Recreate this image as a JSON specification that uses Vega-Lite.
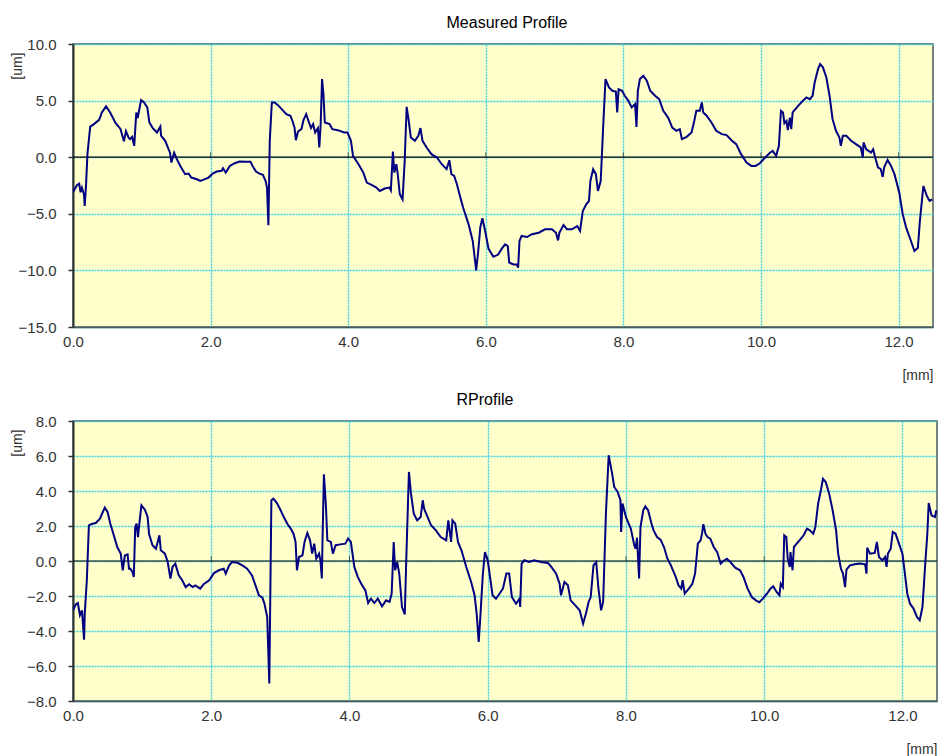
{
"$schema": "https://vega.github.io/schema/vega-lite/v6.json",
"background": "white",
"padding": {"left": 9, "top": 14, "right": 5, "bottom": 5},
"spacing": 8,
"config": {
 "font": "Liberation Sans",
 "view": {"fill": "#ffffcc", "stroke": "#4a5a5a", "strokeWidth": 1.5},
 "title": {"fontSize": 16, "fontWeight": "normal", "color": "#000000", "font": "Liberation Sans", "offset": 6, "frame": "group"},
 "axis": {"labelFont": "Liberation Sans", "labelFontSize": 15, "labelColor": "#333333", "labelOverlap": false, "titleFont": "Liberation Sans", "titleFontSize": 14, "titleFontWeight": "normal", "titleColor": "#333333", "gridColor": "#40d0e6", "gridDash": [2, 1], "gridWidth": 1.4, "domainColor": "#333333"}
},
"datasets": {
 "zeroline": [{"x": 0, "x2": 12.5, "y": 0}],
 "ticks": [{"x": 2, "y": 0}, {"x": 4, "y": 0}, {"x": 6, "y": 0}, {"x": 8, "y": 0}, {"x": 10, "y": 0}, {"x": 12, "y": 0}],
 "measured": [
{"x":0.0,"y":-2.9},{"x":0.01,"y":-2.98},{"x":0.06,"y":-2.45},{"x":0.09,"y":-2.33},{"x":0.11,"y":-3.1},{"x":0.13,"y":-2.7},{"x":0.16,"y":-3.3},{"x":0.17,"y":-4.3},{"x":0.19,"y":-2.4},{"x":0.21,"y":0.27},{"x":0.25,"y":2.7},{"x":0.30,"y":2.9},{"x":0.38,"y":3.3},{"x":0.42,"y":3.95},{"x":0.48,"y":4.5},{"x":0.54,"y":3.95},{"x":0.62,"y":3.0},{"x":0.69,"y":2.5},{"x":0.74,"y":1.4},{"x":0.77,"y":2.3},{"x":0.81,"y":1.7},{"x":0.83,"y":1.6},{"x":0.86,"y":1.8},{"x":0.89,"y":1.0},{"x":0.92,"y":3.95},{"x":0.94,"y":3.45},{"x":0.96,"y":4.1},{"x":0.99,"y":5.05},{"x":1.03,"y":4.85},{"x":1.08,"y":4.4},{"x":1.11,"y":3.07},{"x":1.16,"y":2.57},{"x":1.22,"y":2.18},{"x":1.27,"y":2.7},{"x":1.28,"y":1.9},{"x":1.34,"y":1.45},{"x":1.41,"y":0.4},{"x":1.43,"y":-0.47},{"x":1.47,"y":0.4},{"x":1.51,"y":-0.18},{"x":1.57,"y":-0.9},{"x":1.63,"y":-1.5},{"x":1.68,"y":-1.45},{"x":1.72,"y":-1.8},{"x":1.80,"y":-1.95},{"x":1.85,"y":-2.1},{"x":1.90,"y":-1.98},{"x":1.97,"y":-1.8},{"x":2.03,"y":-1.45},{"x":2.09,"y":-1.27},{"x":2.16,"y":-1.2},{"x":2.18,"y":-0.97},{"x":2.22,"y":-1.36},{"x":2.28,"y":-0.77},{"x":2.35,"y":-0.53},{"x":2.42,"y":-0.38},{"x":2.52,"y":-0.41},{"x":2.58,"y":-0.41},{"x":2.61,"y":-0.77},{"x":2.66,"y":-1.27},{"x":2.71,"y":-1.45},{"x":2.76,"y":-1.56},{"x":2.80,"y":-2.1},{"x":2.82,"y":-2.7},{"x":2.84,"y":-6.0},{"x":2.86,"y":1.45},{"x":2.89,"y":4.84},{"x":2.93,"y":4.84},{"x":2.98,"y":4.6},{"x":3.04,"y":4.2},{"x":3.10,"y":3.8},{"x":3.16,"y":3.66},{"x":3.19,"y":3.2},{"x":3.22,"y":2.6},{"x":3.24,"y":1.5},{"x":3.27,"y":2.27},{"x":3.32,"y":2.48},{"x":3.35,"y":3.27},{"x":3.39,"y":3.8},{"x":3.43,"y":3.07},{"x":3.46,"y":2.57},{"x":3.49,"y":2.92},{"x":3.52,"y":2.18},{"x":3.56,"y":2.57},{"x":3.58,"y":0.86},{"x":3.60,"y":2.92},{"x":3.62,"y":6.9},{"x":3.64,"y":5.58},{"x":3.66,"y":3.07},{"x":3.73,"y":2.92},{"x":3.77,"y":2.48},{"x":3.85,"y":2.39},{"x":3.94,"y":2.18},{"x":3.99,"y":2.18},{"x":4.04,"y":1.45},{"x":4.07,"y":0.12},{"x":4.15,"y":-0.62},{"x":4.22,"y":-1.36},{"x":4.27,"y":-2.24},{"x":4.34,"y":-2.45},{"x":4.41,"y":-2.68},{"x":4.46,"y":-2.98},{"x":4.53,"y":-2.77},{"x":4.60,"y":-2.68},{"x":4.62,"y":-2.92},{"x":4.65,"y":0.5},{"x":4.67,"y":-1.36},{"x":4.70,"y":-0.62},{"x":4.72,"y":-1.5},{"x":4.75,"y":-3.27},{"x":4.79,"y":-3.72},{"x":4.82,"y":-0.47},{"x":4.85,"y":4.45},{"x":4.88,"y":3.2},{"x":4.91,"y":1.74},{"x":4.97,"y":1.45},{"x":5.02,"y":1.9},{"x":5.05,"y":2.57},{"x":5.08,"y":1.45},{"x":5.14,"y":0.86},{"x":5.21,"y":0.27},{"x":5.29,"y":-0.03},{"x":5.36,"y":-0.62},{"x":5.43,"y":-1.06},{"x":5.47,"y":-0.27},{"x":5.50,"y":-1.5},{"x":5.54,"y":-1.65},{"x":5.58,"y":-2.39},{"x":5.63,"y":-3.57},{"x":5.67,"y":-4.45},{"x":5.75,"y":-5.93},{"x":5.81,"y":-7.4},{"x":5.86,"y":-10.0},{"x":5.89,"y":-8.3},{"x":5.92,"y":-6.2},{"x":5.95,"y":-5.4},{"x":5.99,"y":-6.5},{"x":6.04,"y":-8.1},{"x":6.11,"y":-8.8},{"x":6.18,"y":-8.6},{"x":6.23,"y":-8.1},{"x":6.28,"y":-7.7},{"x":6.32,"y":-7.85},{"x":6.34,"y":-9.3},{"x":6.40,"y":-9.47},{"x":6.45,"y":-9.47},{"x":6.47,"y":-9.76},{"x":6.49,"y":-7.4},{"x":6.52,"y":-6.96},{"x":6.60,"y":-7.05},{"x":6.67,"y":-6.8},{"x":6.77,"y":-6.67},{"x":6.86,"y":-6.37},{"x":6.96,"y":-6.37},{"x":7.02,"y":-6.67},{"x":7.05,"y":-7.35},{"x":7.07,"y":-6.67},{"x":7.13,"y":-6.0},{"x":7.18,"y":-6.37},{"x":7.25,"y":-6.37},{"x":7.33,"y":-6.08},{"x":7.37,"y":-6.52},{"x":7.41,"y":-4.75},{"x":7.46,"y":-4.16},{"x":7.50,"y":-3.86},{"x":7.52,"y":-2.1},{"x":7.56,"y":-1.06},{"x":7.60,"y":-1.5},{"x":7.63,"y":-2.98},{"x":7.67,"y":-2.1},{"x":7.71,"y":3.2},{"x":7.74,"y":6.9},{"x":7.79,"y":6.17},{"x":7.84,"y":5.87},{"x":7.89,"y":5.8},{"x":7.91,"y":3.95},{"x":7.93,"y":6.0},{"x":7.98,"y":5.87},{"x":8.02,"y":5.43},{"x":8.07,"y":5.0},{"x":8.12,"y":4.4},{"x":8.17,"y":4.7},{"x":8.19,"y":2.68},{"x":8.21,"y":5.87},{"x":8.24,"y":6.9},{"x":8.29,"y":7.2},{"x":8.34,"y":6.75},{"x":8.39,"y":5.87},{"x":8.46,"y":5.43},{"x":8.52,"y":5.13},{"x":8.58,"y":4.1},{"x":8.65,"y":3.5},{"x":8.71,"y":2.62},{"x":8.77,"y":2.33},{"x":8.82,"y":2.48},{"x":8.85,"y":1.6},{"x":8.92,"y":1.8},{"x":8.99,"y":2.18},{"x":9.03,"y":3.2},{"x":9.06,"y":4.1},{"x":9.11,"y":4.1},{"x":9.14,"y":4.84},{"x":9.16,"y":3.95},{"x":9.21,"y":3.66},{"x":9.28,"y":3.07},{"x":9.35,"y":2.33},{"x":9.43,"y":2.04},{"x":9.50,"y":1.95},{"x":9.57,"y":1.5},{"x":9.64,"y":1.15},{"x":9.71,"y":0.27},{"x":9.79,"y":-0.47},{"x":9.86,"y":-0.77},{"x":9.92,"y":-0.77},{"x":9.98,"y":-0.56},{"x":10.05,"y":-0.09},{"x":10.13,"y":0.4},{"x":10.17,"y":0.56},{"x":10.22,"y":0.12},{"x":10.26,"y":1.0},{"x":10.29,"y":4.1},{"x":10.32,"y":3.95},{"x":10.34,"y":3.0},{"x":10.37,"y":3.2},{"x":10.39,"y":2.39},{"x":10.42,"y":3.5},{"x":10.44,"y":2.48},{"x":10.46,"y":3.95},{"x":10.54,"y":4.54},{"x":10.61,"y":5.0},{"x":10.66,"y":5.28},{"x":10.71,"y":5.13},{"x":10.75,"y":5.43},{"x":10.78,"y":6.6},{"x":10.83,"y":7.8},{"x":10.86,"y":8.23},{"x":10.90,"y":7.94},{"x":10.95,"y":7.05},{"x":11.00,"y":5.28},{"x":11.04,"y":3.36},{"x":11.09,"y":2.33},{"x":11.14,"y":1.74},{"x":11.16,"y":1.0},{"x":11.19,"y":1.9},{"x":11.24,"y":1.9},{"x":11.31,"y":1.45},{"x":11.38,"y":1.15},{"x":11.45,"y":0.86},{"x":11.48,"y":-0.03},{"x":11.49,"y":1.3},{"x":11.53,"y":0.7},{"x":11.60,"y":0.4},{"x":11.63,"y":0.7},{"x":11.66,"y":-0.03},{"x":11.70,"y":-0.9},{"x":11.74,"y":-1.06},{"x":11.77,"y":-1.74},{"x":11.79,"y":-0.9},{"x":11.84,"y":-0.24},{"x":11.89,"y":-0.77},{"x":11.94,"y":-1.5},{"x":12.01,"y":-3.13},{"x":12.06,"y":-5.04},{"x":12.11,"y":-6.22},{"x":12.18,"y":-7.4},{"x":12.23,"y":-8.29},{"x":12.28,"y":-8.0},{"x":12.31,"y":-5.6},{"x":12.36,"y":-2.54},{"x":12.41,"y":-3.42},{"x":12.45,"y":-3.86},{"x":12.49,"y":-3.72}
 ],
 "rprofile": [
{"x":0.0,"y":-2.82},{"x":0.04,"y":-2.48},{"x":0.07,"y":-2.4},{"x":0.10,"y":-3.1},{"x":0.13,"y":-2.82},{"x":0.16,"y":-4.5},{"x":0.17,"y":-3.0},{"x":0.20,"y":-1.1},{"x":0.23,"y":2.04},{"x":0.28,"y":2.13},{"x":0.33,"y":2.17},{"x":0.39,"y":2.42},{"x":0.42,"y":2.7},{"x":0.46,"y":3.05},{"x":0.50,"y":2.8},{"x":0.54,"y":2.13},{"x":0.59,"y":1.47},{"x":0.64,"y":0.8},{"x":0.69,"y":0.42},{"x":0.72,"y":-0.53},{"x":0.75,"y":0.32},{"x":0.79,"y":0.38},{"x":0.81,"y":-0.44},{"x":0.83,"y":-0.44},{"x":0.86,"y":-0.63},{"x":0.88,"y":-0.91},{"x":0.90,"y":1.94},{"x":0.92,"y":2.13},{"x":0.94,"y":1.37},{"x":0.96,"y":2.13},{"x":0.99,"y":3.18},{"x":1.04,"y":2.93},{"x":1.08,"y":2.51},{"x":1.10,"y":1.56},{"x":1.15,"y":0.9},{"x":1.20,"y":0.7},{"x":1.25,"y":1.47},{"x":1.27,"y":0.61},{"x":1.33,"y":0.42},{"x":1.37,"y":-0.06},{"x":1.41,"y":-1.01},{"x":1.44,"y":-0.34},{"x":1.48,"y":-0.15},{"x":1.53,"y":-0.82},{"x":1.58,"y":-1.1},{"x":1.63,"y":-1.49},{"x":1.68,"y":-1.33},{"x":1.73,"y":-1.49},{"x":1.77,"y":-1.39},{"x":1.84,"y":-1.58},{"x":1.89,"y":-1.33},{"x":1.97,"y":-1.1},{"x":2.04,"y":-0.69},{"x":2.11,"y":-0.53},{"x":2.18,"y":-0.44},{"x":2.21,"y":-0.72},{"x":2.26,"y":-0.25},{"x":2.30,"y":-0.06},{"x":2.38,"y":-0.1},{"x":2.45,"y":-0.25},{"x":2.52,"y":-0.44},{"x":2.59,"y":-0.82},{"x":2.64,"y":-1.39},{"x":2.69,"y":-1.96},{"x":2.74,"y":-2.1},{"x":2.77,"y":-2.44},{"x":2.81,"y":-3.2},{"x":2.84,"y":-7.0},{"x":2.87,"y":3.47},{"x":2.90,"y":3.56},{"x":2.95,"y":3.31},{"x":3.00,"y":2.93},{"x":3.05,"y":2.51},{"x":3.10,"y":2.13},{"x":3.15,"y":1.85},{"x":3.19,"y":1.56},{"x":3.22,"y":1.09},{"x":3.24,"y":-0.53},{"x":3.27,"y":0.23},{"x":3.32,"y":0.32},{"x":3.35,"y":1.09},{"x":3.39,"y":1.6},{"x":3.43,"y":1.18},{"x":3.46,"y":0.42},{"x":3.49,"y":0.99},{"x":3.52,"y":0.13},{"x":3.56,"y":0.42},{"x":3.58,"y":0.04},{"x":3.60,"y":-1.0},{"x":3.61,"y":1.18},{"x":3.63,"y":4.95},{"x":3.66,"y":3.09},{"x":3.68,"y":1.18},{"x":3.73,"y":1.09},{"x":3.76,"y":0.42},{"x":3.80,"y":0.9},{"x":3.87,"y":0.95},{"x":3.94,"y":0.99},{"x":3.98,"y":1.28},{"x":4.02,"y":1.09},{"x":4.07,"y":-0.34},{"x":4.12,"y":-0.91},{"x":4.17,"y":-1.3},{"x":4.23,"y":-1.68},{"x":4.27,"y":-2.4},{"x":4.31,"y":-2.15},{"x":4.36,"y":-2.4},{"x":4.41,"y":-2.15},{"x":4.47,"y":-2.59},{"x":4.53,"y":-2.25},{"x":4.58,"y":-2.34},{"x":4.61,"y":-1.87},{"x":4.64,"y":1.09},{"x":4.66,"y":-0.53},{"x":4.69,"y":-0.06},{"x":4.72,"y":-0.72},{"x":4.76,"y":-2.63},{"x":4.80,"y":-3.05},{"x":4.82,"y":-0.15},{"x":4.86,"y":5.09},{"x":4.89,"y":3.85},{"x":4.93,"y":2.7},{"x":4.98,"y":2.32},{"x":5.03,"y":2.51},{"x":5.06,"y":3.47},{"x":5.08,"y":2.99},{"x":5.12,"y":2.61},{"x":5.18,"y":2.04},{"x":5.25,"y":1.75},{"x":5.32,"y":1.37},{"x":5.40,"y":1.18},{"x":5.43,"y":2.32},{"x":5.47,"y":1.09},{"x":5.49,"y":2.32},{"x":5.53,"y":2.13},{"x":5.57,"y":1.09},{"x":5.62,"y":0.61},{"x":5.69,"y":-0.34},{"x":5.76,"y":-1.2},{"x":5.81,"y":-1.96},{"x":5.84,"y":-3.01},{"x":5.87,"y":-4.63},{"x":5.89,"y":-3.39},{"x":5.93,"y":-0.72},{"x":5.96,"y":0.51},{"x":6.00,"y":0.04},{"x":6.04,"y":-1.1},{"x":6.07,"y":-1.96},{"x":6.12,"y":-2.15},{"x":6.17,"y":-1.87},{"x":6.22,"y":-1.58},{"x":6.27,"y":-0.72},{"x":6.31,"y":-0.72},{"x":6.35,"y":-2.06},{"x":6.41,"y":-2.44},{"x":6.46,"y":-2.15},{"x":6.47,"y":-2.63},{"x":6.49,"y":-0.15},{"x":6.53,"y":0.04},{"x":6.60,"y":-0.06},{"x":6.67,"y":0.04},{"x":6.77,"y":-0.06},{"x":6.87,"y":-0.11},{"x":6.92,"y":-0.34},{"x":6.99,"y":-0.72},{"x":7.04,"y":-1.3},{"x":7.06,"y":-1.96},{"x":7.11,"y":-1.2},{"x":7.16,"y":-1.39},{"x":7.20,"y":-2.25},{"x":7.28,"y":-2.59},{"x":7.33,"y":-2.82},{"x":7.38,"y":-3.58},{"x":7.42,"y":-3.01},{"x":7.46,"y":-2.34},{"x":7.49,"y":-2.06},{"x":7.53,"y":-0.25},{"x":7.57,"y":-0.06},{"x":7.60,"y":-1.49},{"x":7.64,"y":-2.82},{"x":7.67,"y":-2.34},{"x":7.71,"y":2.7},{"x":7.75,"y":6.04},{"x":7.80,"y":4.99},{"x":7.83,"y":4.23},{"x":7.88,"y":3.94},{"x":7.92,"y":3.47},{"x":7.93,"y":1.66},{"x":7.95,"y":3.28},{"x":8.0,"y":2.5},{"x":8.07,"y":1.85},{"x":8.12,"y":0.9},{"x":8.14,"y":0.7},{"x":8.16,"y":1.33},{"x":8.19,"y":-1.0},{"x":8.21,"y":1.94},{"x":8.25,"y":2.9},{"x":8.28,"y":3.12},{"x":8.32,"y":2.9},{"x":8.37,"y":2.13},{"x":8.40,"y":1.75},{"x":8.45,"y":1.37},{"x":8.50,"y":1.22},{"x":8.55,"y":0.8},{"x":8.60,"y":0.13},{"x":8.65,"y":-0.25},{"x":8.72,"y":-0.91},{"x":8.76,"y":-1.39},{"x":8.80,"y":-1.58},{"x":8.82,"y":-1.1},{"x":8.85,"y":-1.87},{"x":8.91,"y":-1.58},{"x":8.96,"y":-1.3},{"x":9.00,"y":-0.72},{"x":9.04,"y":0.99},{"x":9.08,"y":1.18},{"x":9.10,"y":1.56},{"x":9.12,"y":2.1},{"x":9.15,"y":1.56},{"x":9.18,"y":1.37},{"x":9.22,"y":1.28},{"x":9.27,"y":0.8},{"x":9.32,"y":0.51},{"x":9.37,"y":-0.15},{"x":9.41,"y":0.0},{"x":9.46,"y":0.13},{"x":9.51,"y":-0.06},{"x":9.58,"y":-0.38},{"x":9.65,"y":-0.53},{"x":9.70,"y":-0.91},{"x":9.76,"y":-1.58},{"x":9.82,"y":-2.06},{"x":9.88,"y":-2.25},{"x":9.93,"y":-2.36},{"x":9.98,"y":-2.15},{"x":10.04,"y":-1.87},{"x":10.09,"y":-1.58},{"x":10.13,"y":-1.45},{"x":10.18,"y":-1.77},{"x":10.22,"y":-1.96},{"x":10.24,"y":-1.3},{"x":10.27,"y":-1.49},{"x":10.29,"y":1.47},{"x":10.32,"y":1.37},{"x":10.34,"y":0.13},{"x":10.37,"y":-0.34},{"x":10.38,"y":0.51},{"x":10.41,"y":-0.53},{"x":10.43,"y":0.8},{"x":10.47,"y":0.99},{"x":10.52,"y":1.22},{"x":10.57,"y":1.47},{"x":10.62,"y":1.85},{"x":10.66,"y":1.75},{"x":10.71,"y":1.56},{"x":10.74,"y":1.94},{"x":10.78,"y":3.28},{"x":10.82,"y":4.04},{"x":10.85,"y":4.7},{"x":10.89,"y":4.51},{"x":10.94,"y":3.85},{"x":10.99,"y":2.9},{"x":11.04,"y":1.75},{"x":11.07,"y":0.42},{"x":11.11,"y":-0.44},{"x":11.14,"y":-0.72},{"x":11.17,"y":-1.49},{"x":11.19,"y":-0.5},{"x":11.24,"y":-0.25},{"x":11.31,"y":-0.19},{"x":11.38,"y":-0.15},{"x":11.46,"y":-0.19},{"x":11.48,"y":-0.72},{"x":11.49,"y":0.76},{"x":11.53,"y":0.42},{"x":11.60,"y":0.46},{"x":11.63,"y":1.09},{"x":11.66,"y":0.23},{"x":11.71,"y":0.04},{"x":11.75,"y":0.23},{"x":11.77,"y":-0.34},{"x":11.79,"y":0.42},{"x":11.83,"y":0.7},{"x":11.86,"y":1.66},{"x":11.90,"y":1.56},{"x":11.95,"y":0.99},{"x":12.00,"y":0.42},{"x":12.03,"y":-0.53},{"x":12.07,"y":-1.87},{"x":12.11,"y":-2.44},{"x":12.16,"y":-2.72},{"x":12.21,"y":-3.2},{"x":12.25,"y":-3.39},{"x":12.29,"y":-2.63},{"x":12.33,"y":-0.15},{"x":12.36,"y":1.56},{"x":12.38,"y":3.31},{"x":12.42,"y":2.61},{"x":12.47,"y":2.51},{"x":12.49,"y":2.9}
 ]
},
"vconcat": [
 {
  "title": {"text": "Measured Profile", "dx": 4},
  "width": 860,
  "height": 283,
  "encoding": {
   "x": {"field": "x", "type": "quantitative", "scale": {"domain": [0, 12.5], "nice": false, "zero": false},
     "axis": {"values": [0, 2, 4, 6, 8, 10, 12], "format": ".1f", "title": "[mm]", "titleAnchor": "end", "titlePadding": 19, "ticks": false, "labelPadding": 7, "labelFlush": false, "labelOverlap": false, "domainColor": "#4a5a5a", "domainWidth": 1.5, "grid": true}},
   "y": {"field": "y", "type": "quantitative", "scale": {"domain": [-15, 10], "nice": false},
     "axis": {"values": [-15, -10, -5, 0, 5, 10], "format": ".1f", "title": "[um]", "titleAngle": -90, "titleAlign": "right", "titleBaseline": "middle", "titleX": -56, "titleY": 8, "tickSize": 5, "tickColor": "#333333", "tickWidth": 1.5, "labelPadding": 12, "labelOverlap": false, "domainWidth": 2, "domainColor": "#333333", "grid": true}}
  },
  "layer": [
   {
    "data": {"name": "zeroline"},
    "mark": {"type": "rule", "color": "#000000", "strokeWidth": 1.2},
    "encoding": {"x2": {"field": "x2"}}
   },
   {
    "data": {"name": "ticks"},
    "mark": {"type": "tick", "orient": "vertical", "size": 6, "thickness": 1, "color": "#222222", "yOffset": -2}
   },
   {
    "data": {"name": "measured"},
    "mark": {"type": "line", "color": "#000080", "strokeWidth": 2, "clip": true}
   }
  ]
 },
 {
  "title": {"text": "RProfile", "dx": -20},
  "width": 864,
  "height": 280,
  "encoding": {
   "x": {"field": "x", "type": "quantitative", "scale": {"domain": [0, 12.5], "nice": false, "zero": false},
     "axis": {"values": [0, 2, 4, 6, 8, 10, 12], "format": ".1f", "title": "[mm]", "titleAnchor": "end", "titlePadding": 19, "ticks": false, "labelPadding": 7, "labelFlush": false, "labelOverlap": false, "domainColor": "#4a5a5a", "domainWidth": 1.5, "grid": true}},
   "y": {"field": "y", "type": "quantitative", "scale": {"domain": [-8, 8], "nice": false},
     "axis": {"values": [-8, -6, -4, -2, 0, 2, 4, 6, 8], "format": ".1f", "title": "[um]", "titleAngle": -90, "titleAlign": "right", "titleBaseline": "middle", "titleX": -56, "titleY": 8, "tickSize": 5, "tickColor": "#333333", "tickWidth": 1.5, "labelPadding": 12, "labelOverlap": false, "domainWidth": 2, "domainColor": "#333333", "grid": true}}
  },
  "layer": [
   {
    "data": {"name": "zeroline"},
    "mark": {"type": "rule", "color": "#000000", "strokeWidth": 1.2},
    "encoding": {"x2": {"field": "x2"}}
   },
   {
    "data": {"name": "ticks"},
    "mark": {"type": "tick", "orient": "vertical", "size": 6, "thickness": 1, "color": "#222222", "yOffset": -2}
   },
   {
    "data": {"name": "rprofile"},
    "mark": {"type": "line", "color": "#000080", "strokeWidth": 2, "clip": true}
   }
  ]
 }
]
}
